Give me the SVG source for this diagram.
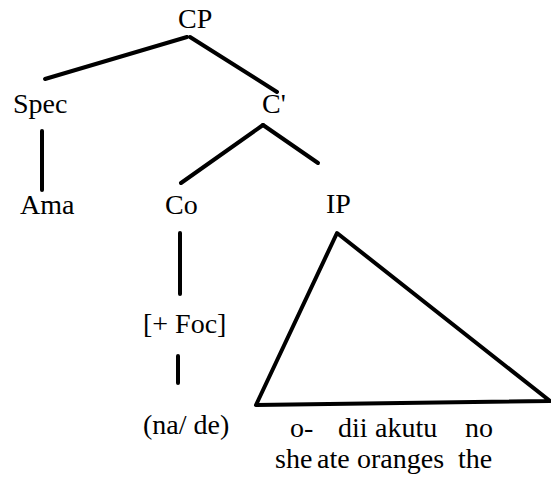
<svg xmlns="http://www.w3.org/2000/svg" width="551" height="480" viewBox="0 0 551 480">
<rect width="551" height="480" fill="#fff"/>
<g id="connectors" stroke="#000" stroke-width="4" fill="none" stroke-linecap="round">
<line x1="187" y1="37" x2="45" y2="79"/>
<line x1="190" y1="37" x2="277" y2="92"/>
<line x1="42" y1="131" x2="42" y2="190"/>
<line x1="263" y1="125" x2="181" y2="183"/>
<line x1="263" y1="125" x2="318" y2="163"/>
<line x1="180" y1="233" x2="180" y2="294"/>
<line x1="178" y1="356" x2="178" y2="383"/>
</g>
<g id="CP"><text style="font-family:'Liberation Serif',serif;font-size:28px" x="178" y="28">CP</text></g>
<g id="Spec"><text style="font-family:'Liberation Serif',serif;font-size:28px" x="13" y="113">Spec</text></g>
<g id="Cbar"><text style="font-family:'Liberation Serif',serif;font-size:28px" x="262" y="113">C'</text></g>
<g id="Ama"><text style="font-family:'Liberation Serif',serif;font-size:28px" x="20" y="214">Ama</text></g>
<g id="Co"><text style="font-family:'Liberation Serif',serif;font-size:28px" x="165" y="214">Co</text></g>
<g id="IP"><text style="font-family:'Liberation Serif',serif;font-size:28px" x="326" y="213">IP</text>
<polygon points="337,233 256,405 550,401" stroke="#000" stroke-width="4" fill="none" stroke-linejoin="round"/></g>
<g id="Foc"><text style="font-family:'Liberation Serif',serif;font-size:28px" x="143" y="333">[+ Foc]</text></g>
<g id="nade"><text style="font-family:'Liberation Serif',serif;font-size:28px" x="143" y="434">(na/ de)</text></g>
<g id="gloss">
<text style="font-family:'Liberation Serif',serif;font-size:28px" x="290" y="437">o-</text>
<text style="font-family:'Liberation Serif',serif;font-size:28px" x="338" y="437">dii</text>
<text style="font-family:'Liberation Serif',serif;font-size:28px" x="375" y="437">akutu</text>
<text style="font-family:'Liberation Serif',serif;font-size:28px" x="465" y="437">no</text>
<text style="font-family:'Liberation Serif',serif;font-size:28px" x="275" y="468">she</text>
<text style="font-family:'Liberation Serif',serif;font-size:28px" x="317" y="468">ate</text>
<text style="font-family:'Liberation Serif',serif;font-size:28px" x="357" y="468">oranges</text>
<text style="font-family:'Liberation Serif',serif;font-size:28px" x="458" y="468">the</text>
</g>
</svg>
